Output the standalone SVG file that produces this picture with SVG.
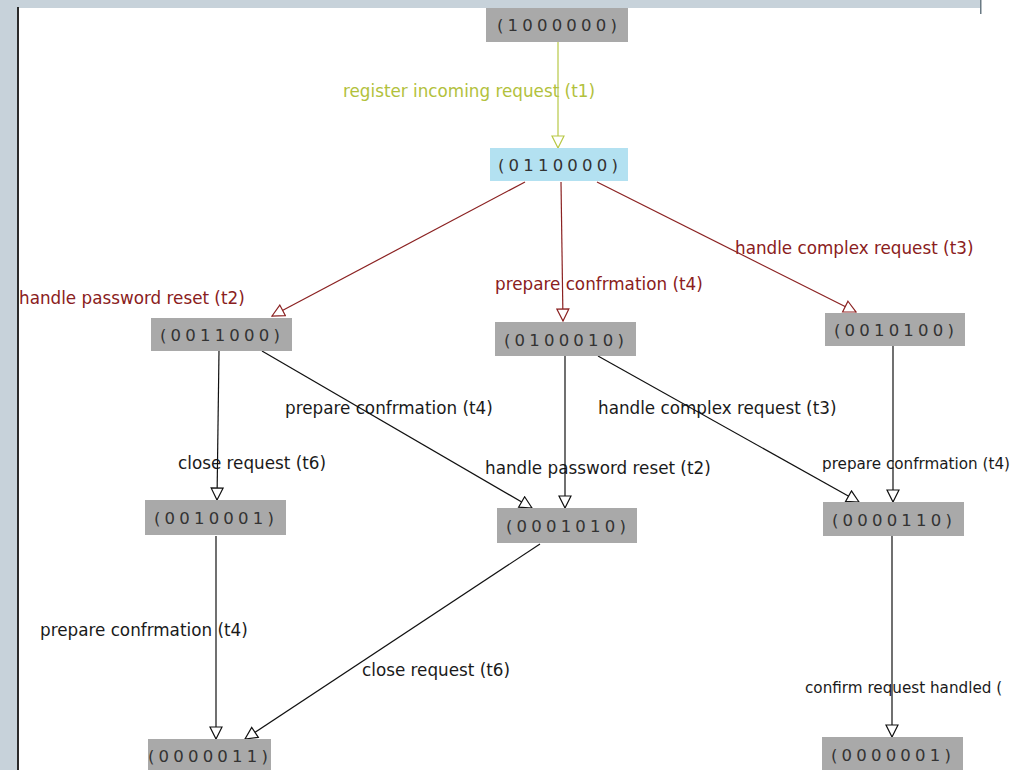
<svg xmlns="http://www.w3.org/2000/svg" width="1018" height="770" viewBox="0 0 1018 770">
  <style>
    .node rect { fill: #a9a9a9; }
    .node text { font-family: "DejaVu Sans", sans-serif; font-size: 16.5px; fill: #333; letter-spacing: 4.2px; text-anchor: middle; }
    .lbl { font-family: "DejaVu Sans", sans-serif; font-size: 16.8px; }
    .lbl.edge-right { font-size: 15.2px; }
    .lbl-g { fill: #b2c13c; }
    .lbl-r { fill: #8a2020; }
    .lbl-k { fill: #1a1a1a; }
    .e-g { stroke: #b8c846; stroke-width: 1.2; fill: none; marker-end: url(#ah-g); }
    .e-r { stroke: #8b2222; stroke-width: 1.2; fill: none; marker-end: url(#ah-r); }
    .e-k { stroke: #111; stroke-width: 1.2; fill: none; marker-end: url(#ah-k); }
  </style>
  <defs>
    <marker id="ah-g" viewBox="0 0 14 14" refX="13" refY="7" markerWidth="14" markerHeight="14" markerUnits="userSpaceOnUse" orient="auto">
      <path d="M1,1 L13,7 L1,13 z" fill="#fff" stroke="#b8c846" stroke-width="1.2"/>
    </marker>
    <marker id="ah-r" viewBox="0 0 14 14" refX="13" refY="7" markerWidth="14" markerHeight="14" markerUnits="userSpaceOnUse" orient="auto">
      <path d="M1,1 L13,7 L1,13 z" fill="#fff" stroke="#8b2222" stroke-width="1.2"/>
    </marker>
    <marker id="ah-k" viewBox="0 0 14 14" refX="13" refY="7" markerWidth="14" markerHeight="14" markerUnits="userSpaceOnUse" orient="auto">
      <path d="M1,1 L13,7 L1,13 z" fill="#fff" stroke="#111" stroke-width="1.2"/>
    </marker>
  </defs>

  <!-- window frame -->
  <rect x="0" y="0" width="1018" height="770" fill="#ffffff"/>
  <rect x="0" y="0" width="981" height="8" fill="#c7d2da"/>
  <rect x="0" y="0" width="17" height="770" fill="#c7d2da"/>
  <rect x="17" y="7" width="2" height="763" fill="#2a2a2a"/>
  <rect x="980" y="0" width="1.5" height="14" fill="#6a7a84"/>

  <!-- edge labels -->
  <g id="labels">
    <text class="lbl lbl-g" x="343" y="97">register incoming request (t1)</text>
    <text class="lbl lbl-r" x="19" y="304">handle password reset (t2)</text>
    <text class="lbl lbl-r" x="495" y="290">prepare confrmation (t4)</text>
    <text class="lbl lbl-r" x="735" y="254">handle complex request (t3)</text>
    <text class="lbl lbl-k" x="178" y="469">close request (t6)</text>
    <text class="lbl lbl-k" x="285" y="414">prepare confrmation (t4)</text>
    <text class="lbl lbl-k" x="485" y="474">handle password reset (t2)</text>
    <text class="lbl lbl-k" x="598" y="414">handle complex request (t3)</text>
    <text class="lbl lbl-k edge-right" x="822" y="469">prepare confrmation (t4)</text>
    <text class="lbl lbl-k" x="40" y="636">prepare confrmation (t4)</text>
    <text class="lbl lbl-k" x="362" y="676">close request (t6)</text>
    <text class="lbl lbl-k edge-right" x="805" y="693">confirm request handled (</text>
  </g>

  <!-- connectors -->
  <g id="edges">
    <line class="e-g" x1="558" y1="42" x2="558" y2="148"/>
    <line class="e-r" x1="525" y1="182" x2="272" y2="316"/>
    <line class="e-r" x1="561" y1="182" x2="563" y2="321"/>
    <line class="e-r" x1="597" y1="182" x2="856" y2="312"/>
    <line class="e-k" x1="219" y1="351" x2="217" y2="500"/>
    <line class="e-k" x1="262" y1="351" x2="532" y2="508"/>
    <line class="e-k" x1="565" y1="356" x2="565" y2="508"/>
    <line class="e-k" x1="598" y1="356" x2="859" y2="502"/>
    <line class="e-k" x1="893" y1="346" x2="893" y2="502"/>
    <line class="e-k" x1="216" y1="536" x2="216" y2="739"/>
    <line class="e-k" x1="540" y1="544" x2="245" y2="739"/>
    <line class="e-k" x1="892" y1="536" x2="892" y2="737"/>
  </g>

  <!-- states -->
  <g id="n1000000" class="node"><rect x="486" y="8" width="142" height="34"/><text x="559" y="31">(1000000)</text></g>
  <g id="n0110000" class="node"><rect x="490" y="148" width="138" height="33" style="fill:#b3e1f1"/><text x="560" y="171">(0110000)</text></g>
  <g id="n0011000" class="node"><rect x="151" y="318" width="141" height="33"/><text x="222" y="341">(0011000)</text></g>
  <g id="n0100010" class="node"><rect x="495" y="322" width="141" height="34"/><text x="566" y="346">(0100010)</text></g>
  <g id="n0010100" class="node"><rect x="825" y="313" width="140" height="33"/><text x="896" y="336">(0010100)</text></g>
  <g id="n0010001" class="node"><rect x="145" y="500" width="141" height="35"/><text x="216" y="524">(0010001)</text></g>
  <g id="n0001010" class="node"><rect x="497" y="508" width="140" height="35"/><text x="568" y="532">(0001010)</text></g>
  <g id="n0000110" class="node"><rect x="823" y="502" width="141" height="34"/><text x="894" y="526">(0000110)</text></g>
  <g id="n0000011" class="node"><rect x="148" y="739" width="123" height="31"/><text x="210" y="762">(0000011)</text></g>
  <g id="n0000001" class="node"><rect x="822" y="737" width="141" height="33"/><text x="893" y="761">(0000001)</text></g>
</svg>
